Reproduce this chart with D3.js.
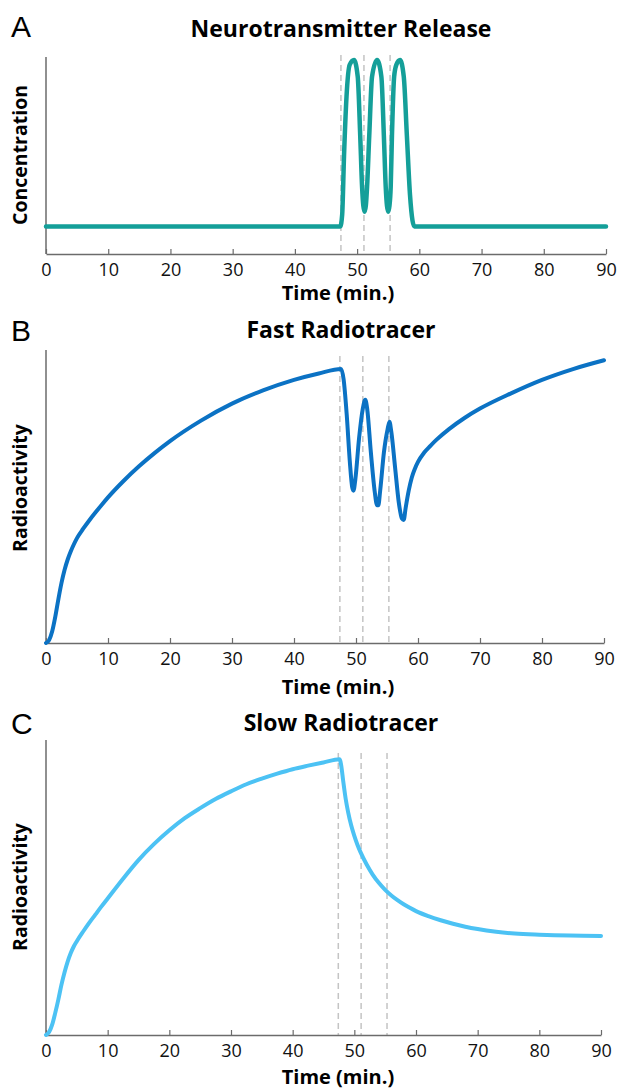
<!DOCTYPE html>
<html>
<head>
<meta charset="utf-8">
<script src="https://cdn.jsdelivr.net/npm/d3@7"></script>
<style>
  body { margin: 0; background: #fff; }
  svg { display: block; }
  .tick text { font-family: "Open Sans", sans-serif; font-size: 18px; fill: #111; }
</style>
</head>
<body>
<div id="chart"></div>
<script>
// time axis ticks (minutes)
const timeTicks = [0, 10, 20, 30, 40, 50, 60, 70, 80, 90];

// stimulus times marked by dashed lines
const pulseTimes = [47.4, 51.1, 55.3];

// A: neurotransmitter concentration (relative units)
const concTime = [0, 47.3, 47.6, 47.9, 48.3, 48.8, 49.5, 50.1, 50.5, 50.8, 51.0, 51.2, 51.4, 51.6, 51.95, 52.4, 53.2,
    53.9, 54.3, 54.6, 54.8, 55.0, 55.2, 55.4, 55.6, 55.95, 56.3, 56.9, 57.5, 58.0, 58.5, 58.9, 59.2, 90];
const concValue = [0.14, 0.14, 0.2, 0.5, 0.8, 0.96, 0.985, 0.9, 0.6, 0.34, 0.245, 0.215, 0.245, 0.34, 0.6, 0.9, 0.985,
    0.9, 0.6, 0.34, 0.245, 0.215, 0.245, 0.34, 0.6, 0.9, 0.96, 0.985, 0.9, 0.6, 0.3, 0.17, 0.14, 0.14];

// B: fast radiotracer activity
const fastTime = [0, 0.5, 1, 1.5, 2, 2.5, 3, 3.5, 4, 4.5, 5, 6, 7, 8, 9, 10, 12.5, 15, 17.5, 20, 25, 30, 35, 40, 44, 47.6,
    48.0, 48.5, 49.0, 49.4, 49.6, 49.9, 50.5, 51.1, 51.5, 51.8, 52.4, 53.0, 53.4, 53.6, 53.9,
    54.5, 55.1, 55.4, 55.7, 56.3, 56.9, 57.4, 57.7, 58.0, 58.5, 59, 59.5, 60, 61, 62, 63, 65, 67.5, 70, 75, 80, 85, 90];
const fastValue = [0, 0.01, 0.04, 0.09, 0.15, 0.205, 0.25, 0.285, 0.313, 0.337, 0.358, 0.39, 0.419, 0.446, 0.472, 0.497,
    0.553, 0.603, 0.648, 0.689, 0.759, 0.817, 0.862, 0.898, 0.92, 0.935,
    0.9, 0.78, 0.62, 0.53, 0.52, 0.56, 0.7, 0.8, 0.83, 0.8, 0.65, 0.52, 0.47, 0.47, 0.52,
    0.65, 0.73, 0.755, 0.72, 0.6, 0.48, 0.425, 0.42, 0.46, 0.52, 0.565, 0.595, 0.618, 0.65, 0.673, 0.694,
    0.73, 0.768, 0.8, 0.852, 0.898, 0.935, 0.965];

// C: slow radiotracer activity
const slowTime = [0, 0.5, 1, 1.5, 2, 2.5, 3, 3.5, 4, 4.5, 5, 6, 7, 8, 9, 10, 12.5, 15, 17.5, 20, 22.5, 25, 27.5, 30, 32.5,
    35, 37.5, 40, 42.5, 45, 47.6,
    47.9, 48.2, 48.6, 49, 49.5, 50, 50.5, 51, 52, 53, 54, 55, 56, 57, 58, 59, 60, 62, 64, 66, 68, 70, 73, 76, 80, 85, 90];
const slowValue = [0, 0.01, 0.035, 0.075, 0.12, 0.17, 0.212, 0.248, 0.277, 0.3, 0.318, 0.35, 0.38, 0.408, 0.436,
    0.463, 0.53, 0.593, 0.647, 0.694, 0.735, 0.769, 0.8, 0.826, 0.85, 0.869, 0.886, 0.901, 0.913, 0.924, 0.935,
    0.91, 0.86, 0.8, 0.755, 0.71, 0.675, 0.645, 0.62, 0.578, 0.543, 0.515, 0.492, 0.473, 0.457, 0.443, 0.431,
    0.42, 0.403, 0.389, 0.377, 0.367, 0.359, 0.35, 0.344, 0.34, 0.337, 0.336];

const panels = [
    { letter: "A", title: "Neurotransmitter Release", ylabel: "Concentration",
      time: concTime, value: concValue, color: "#149f99", width: 4.5,
      left: 46, right: 606, top: 57, bottom: 254, dashTop: 55, letterY: 37, titleY: 37, ylabelY: 155, xlabelY: 300 },
    { letter: "B", title: "Fast Radiotracer", ylabel: "Radioactivity",
      time: fastTime, value: fastValue, color: "#0b72c4", width: 4,
      left: 46, right: 604, top: 350, bottom: 643, dashTop: 356, letterY: 341, titleY: 338, ylabelY: 488, xlabelY: 694 },
    { letter: "C", title: "Slow Radiotracer", ylabel: "Radioactivity",
      time: slowTime, value: slowValue, color: "#4cc2f4", width: 4,
      left: 46, right: 601, top: 740, bottom: 1035, dashTop: 753, letterY: 734, titleY: 731, ylabelY: 887, xlabelY: 1084 }
];

const svg = d3.select("#chart").append("svg")
    .attr("width", 620)
    .attr("height", 1089);

panels.forEach(p => {
    const x = d3.scaleLinear().domain([0, 90]).range([p.left, p.right]);
    const y = d3.scaleLinear().domain([0, 1]).range([p.bottom, p.top]);
    const g = svg.append("g");

    // panel letter
    g.append("text")
        .attr("x", 11)
        .attr("y", p.letterY)
        .style("font-family", "'Liberation Sans', Arial, sans-serif")
        .style("font-size", "30px")
        .text(p.letter);

    // title
    g.append("text")
        .attr("x", 341)
        .attr("y", p.titleY)
        .attr("text-anchor", "middle")
        .style("font-family", "'Open Sans', sans-serif")
        .style("font-weight", "bold")
        .style("font-size", "23px")
        .text(p.title);

    // dashed pulse markers
    g.selectAll(".pulse")
        .data(pulseTimes)
        .enter().append("line")
        .attr("x1", d => x(d)).attr("x2", d => x(d))
        .attr("y1", p.dashTop).attr("y2", p.bottom)
        .attr("stroke", "#c4c4c4")
        .attr("stroke-width", 1.5)
        .attr("stroke-dasharray", "6,4");

    // y axis: plain line
    g.append("line")
        .attr("x1", p.left).attr("x2", p.left)
        .attr("y1", p.top).attr("y2", p.bottom)
        .attr("stroke", "#6b6b6b")
        .attr("stroke-width", 1.5);

    // x axis
    const xAxis = d3.axisBottom(x)
        .tickValues(timeTicks)
        .tickSizeInner(-5)
        .tickSizeOuter(0)
        .tickPadding(9);
    const ax = g.append("g")
        .attr("transform", `translate(0,${p.bottom})`)
        .call(xAxis);
    ax.select(".domain").attr("stroke", "#6b6b6b").attr("stroke-width", 1.5);
    ax.selectAll(".tick line").attr("stroke", "#6b6b6b").attr("stroke-width", 1.2);

    // axis labels
    g.append("text")
        .attr("x", 338)
        .attr("y", p.xlabelY)
        .attr("text-anchor", "middle")
        .style("font-family", "'Open Sans', sans-serif")
        .style("font-weight", "bold")
        .style("font-size", "20px")
        .text("Time (min.)");

    g.append("text")
        .attr("transform", `translate(27,${p.ylabelY}) rotate(-90)`)
        .attr("text-anchor", "middle")
        .style("font-family", "'Open Sans', sans-serif")
        .style("font-weight", "bold")
        .style("font-size", "19.5px")
        .text(p.ylabel);

    // curve
    const pts = p.time.map((t, i) => [t, p.value[i]]);
    const line = d3.line()
        .x(d => x(d[0]))
        .y(d => y(d[1]))
        .curve(d3.curveMonotoneX);
    g.append("path")
        .datum(pts)
        .attr("d", line)
        .attr("fill", "none")
        .attr("stroke", p.color)
        .attr("stroke-width", p.width)
        .attr("stroke-linejoin", "round")
        .attr("stroke-linecap", "round");
});
</script>
</body>
</html>
